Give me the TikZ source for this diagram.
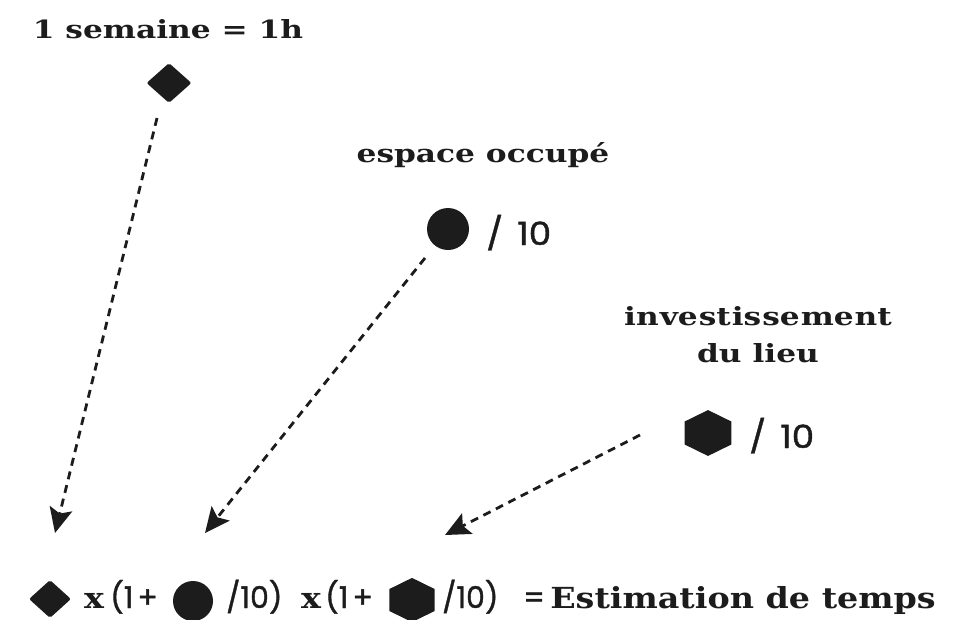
\documentclass[tikz,border=0pt]{standalone}
\usepackage{fontspec}
\setmainfont{DejaVu Serif}
\newfontfamily\slabfont{DejaVu Serif}[FakeStretch=1.25]
\newfontfamily\slabbottom{DejaVu Serif}[FakeStretch=1.15]
\newfontfamily\geofont{Poppins}[FakeBold=1.2, FakeStretch=1.12]
\newfontfamily\geobottom{Poppins}[FakeBold=1.2]
\usetikzlibrary{shapes.geometric,arrows.meta,calc}
\definecolor{ink}{HTML}{1C1C1C}
\tikzset{
  label text/.style={font=\slabfont\bfseries\fontsize{25}{30}\selectfont, text=ink, inner sep=0pt},
  num text/.style={font=\geofont\fontsize{32}{36}\selectfont, text=ink, inner sep=0pt},
  slab bottom/.style={font=\slabbottom\bfseries\fontsize{29}{34}\selectfont, text=ink, inner sep=0pt, anchor=base west},
  geo bottom/.style={font=\geobottom\fontsize{30}{34}\selectfont, text=ink, inner sep=0pt, anchor=base west},
  gem/.style={diamond, fill=ink, inner sep=0pt, minimum width=45pt, minimum height=40pt, rounded corners=2pt},
  disc/.style={circle, fill=ink, inner sep=0pt, minimum size=42pt},
  hexa/.style={regular polygon, regular polygon sides=6, shape border rotate=30, fill=ink, inner sep=0pt, minimum size=54pt, yscale=0.85},
  dasharrow/.style={draw=ink, line width=2.8pt, dash pattern=on 8pt off 6pt,
    -{Stealth[length=25pt, width=23pt, inset=5pt]}},
}
\begin{document}
\begin{tikzpicture}[x=1pt, y=-1pt]
\useasboundingbox (0,0) rectangle (957,619);

% --- week factor ---
\node[label text, anchor=base] (semaine) at (168,38) {1 semaine = 1h};
\node[gem] (g1) at (169,83) {};

% --- occupied space ---
\node[label text, anchor=base] (espace) at (483,162) {espace occupé};
\node[disc] (c1) at (448,229) {};
\node[num text, anchor=base west] (n1) at (486,245) {/\kern14pt 10};

% --- place investment ---
\node[label text, anchor=base] (invest) at (758,325) {in\kern1pt ve\kern1pt st\kern1pt is\kern1pt se\kern1pt me\kern1pt nt};
\node[label text, anchor=base] (lieu) at (758,362) {du lieu};
\node[hexa] (h1) at (708,433) {};
\node[num text, anchor=base west] (n2) at (749,448) {/\kern14pt 10};

% --- resulting formula ---
\node[gem, minimum width=42pt, minimum height=38pt] (g2) at (50,599) {};
\node[slab bottom] (x1) at (84,608) {x};
\node[geo bottom] (p1) at (110,608) {(1\kern4pt+};
\node[disc, minimum size=40pt] (c2) at (193,601) {};
\node[geo bottom] (d1) at (226,608) {/10)};
\node[slab bottom] (x2) at (301,608) {x};
\node[geo bottom] (p2) at (325,608) {(1\kern4pt+};
\node[hexa, minimum size=52pt] (h2) at (412,600) {};
\node[geo bottom] (d2) at (442,608) {/10)};
\node[geo bottom] (eq) at (523,608) {=};
\node[slab bottom, anchor=base east] (est) at (936,608) {Estimation de temps};

% --- connectors ---
\coordinate (s1) at (157,118);
\coordinate (t1) at (55,533);
\coordinate (s2) at (425,258);
\coordinate (t2) at (205,533);
\coordinate (s3) at (640,435);
\coordinate (t3) at (445,535);
\draw[dasharrow] (s1) -- (t1);
\draw[dasharrow] (s2) -- (t2);
\draw[dasharrow] (s3) -- (t3);
\end{tikzpicture}
\end{document}
